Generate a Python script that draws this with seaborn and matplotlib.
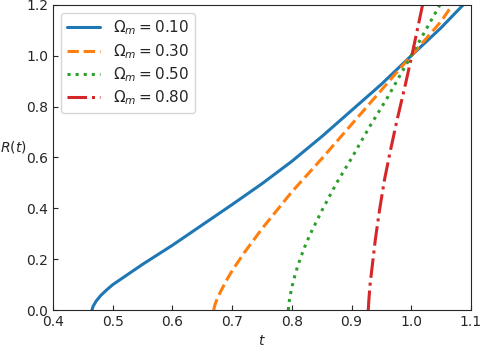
import matplotlib
matplotlib.use("Agg")
import matplotlib.pyplot as plt
import numpy as np
import pandas as pd
import seaborn as sns

# values
t_010 = [0.465, 0.467, 0.472, 0.48, 0.49, 0.50, 0.55, 0.60, 0.65, 0.70, 0.75, 0.80, 0.85, 0.90, 0.95, 1.00, 1.05, 1.087]
R_010 = [0.0, 0.015, 0.035, 0.058, 0.08, 0.10, 0.18, 0.255, 0.335, 0.415, 0.497, 0.585, 0.682, 0.785, 0.888, 1.00, 1.11, 1.2]

t_030 = [0.669, 0.671, 0.675, 0.68, 0.69, 0.70, 0.72, 0.75, 0.80, 0.85, 0.90, 0.95, 1.00, 1.05, 1.069]
R_030 = [0.0, 0.02, 0.045, 0.07, 0.115, 0.155, 0.225, 0.32, 0.465, 0.595, 0.73, 0.865, 1.00, 1.135, 1.2]

t_050 = [0.794, 0.795, 0.797, 0.80, 0.805, 0.81, 0.82, 0.83, 0.85, 0.875, 0.90, 0.93, 0.96, 1.00, 1.03, 1.048]
R_050 = [0.0, 0.025, 0.055, 0.09, 0.135, 0.175, 0.24, 0.295, 0.39, 0.50, 0.597, 0.72, 0.835, 1.00, 1.125, 1.2]

t_080 = [0.928, 0.929, 0.931, 0.934, 0.94, 0.947, 0.955, 0.964, 0.976, 0.99, 1.00, 1.01, 1.019]
R_080 = [0.0, 0.04, 0.10, 0.16, 0.28, 0.395, 0.51, 0.615, 0.745, 0.885, 0.99, 1.10, 1.2]

omegas = ["0.10", "0.30", "0.50", "0.80"]
series = [(t_010, R_010), (t_030, R_030), (t_050, R_050), (t_080, R_080)]
styles = ["-", "--", ":", "-."]

sns.set_style("ticks", {"xtick.direction": "in", "ytick.direction": "in"})
palette = sns.color_palette("tab10", 4)

fig, ax = plt.subplots(figsize=(4.83, 3.48), dpi=100)
fig.subplots_adjust(left=0.11, right=0.975, bottom=0.109, top=0.986)

for (t, R), om, ls, c in zip(series, omegas, styles, palette):
    df = pd.DataFrame({"t": t, "R": R})
    sns.lineplot(data=df, x="t", y="R", ax=ax, color=c, linestyle=ls,
                 linewidth=2.2, estimator=None, sort=False,
                 label=r"$\Omega_m = %s$" % om)

ax.set_xlim(0.4, 1.1)
ax.set_ylim(0.0, 1.2)
ax.set_xticks(np.arange(0.4, 1.11, 0.1))
ax.set_yticks(np.arange(0.0, 1.21, 0.2))
ax.set_xlabel(r"$t$")
ax.set_ylabel(r"$R(t)$", rotation=0, ha="center", va="center")
ax.yaxis.set_label_coords(-0.096, 0.533)
ax.legend(loc="upper left", fontsize=11, labelspacing=0.3, handlelength=2.2)

plt.savefig("out.png", dpi=100)
